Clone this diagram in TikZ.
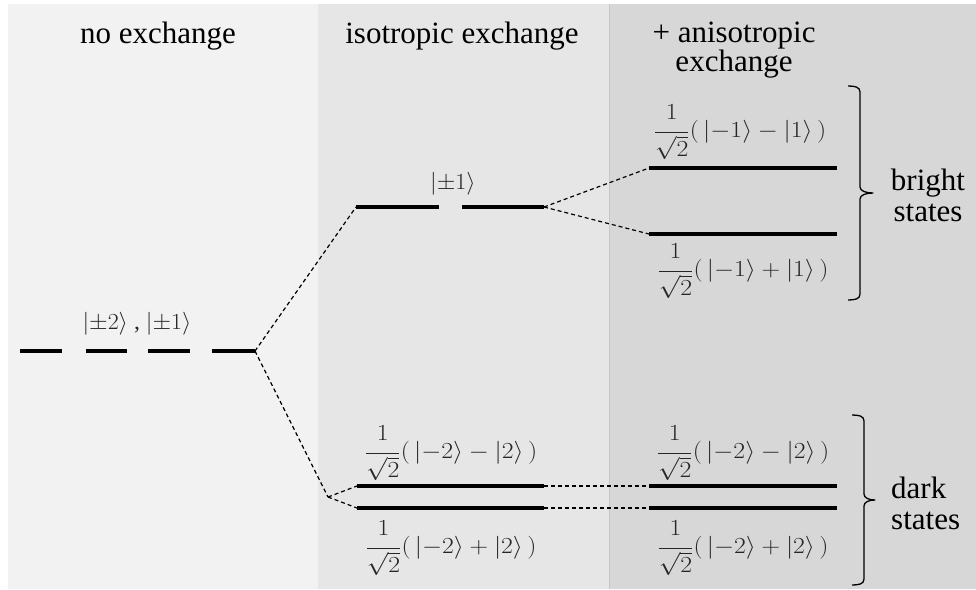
\RequirePackage{fix-cm}
\documentclass[tikz,border=0pt]{standalone}
\usepackage{amsmath}
\usepackage{graphicx}
\usepackage[no-math]{fontspec}
\setmainfont{Liberation Serif}
\definecolor{panelA}{HTML}{F2F2F2}
\definecolor{panelB}{HTML}{E6E6E6}
\definecolor{panelC}{HTML}{D7D7D7}
\definecolor{mathgray}{HTML}{262626}
\tikzset{
  level/.style={line width=4pt},
  link/.style={line width=1.2pt, dash pattern=on 4pt off 3pt},
  ket/.style={inner sep=0pt, text=mathgray, font=\fontsize{23}{27}\selectfont},
  title/.style={inner sep=0pt, font=\fontsize{31}{29}\selectfont, align=center},
  side/.style={inner sep=0pt, font=\fontsize{31}{31}\selectfont},
  bracket/.style={line width=1.3pt, line join=round}
}
\newcommand{\wide}[1]{\scalebox{1.12}[1]{#1}}
\newcommand{\slightwide}[1]{\scalebox{1.04}[1]{#1}}
\newcommand{\fracsq}{\dfrac{\raisebox{3pt}{$\displaystyle 1$}}{\sqrt{2}}}
\newcommand{\combo}[2]{\wide{$\fracsq(\,|{-#1}\rangle#2|#1\rangle\,)$}}
\begin{document}
\begin{tikzpicture}[x=1pt,y=-1pt]
\useasboundingbox (0,0) rectangle (976,589);
% panels
\fill[white] (0,0) rectangle (976,589);
\fill[panelA] (8,4) rectangle (318,589);
\fill[panelB] (318,4) rectangle (609,589);
\fill[panelC] (609,4) rectangle (976,589);
\draw[black!22, line width=1pt] (609,4) -- (609,589);
% titles
\node[title] (t1) at (158,36) {no exchange};
\node[title] (t2) at (462,36) {isotropic exchange};
\node[title] (t3) at (734,50) {+ anisotropic\\exchange};
% panel 1 levels
\coordinate (a1) at (20,351); \coordinate (a2) at (62,351);
\coordinate (a3) at (86,351); \coordinate (a4) at (127,351);
\coordinate (a5) at (148,351); \coordinate (a6) at (190,351);
\coordinate (a7) at (212,351); \coordinate (a8) at (255,351);
\draw[level] (a1) -- (a2); \draw[level] (a3) -- (a4);
\draw[level] (a5) -- (a6); \draw[level] (a7) -- (a8);
\node[ket] (la) at (137,324) {\slightwide{$|{\pm}2\rangle$ , $|{\pm}1\rangle$}};
% panel 2 bright
\coordinate (b1) at (356,207); \coordinate (b2) at (439,207);
\coordinate (b3) at (462,207); \coordinate (b4) at (544,207);
\draw[level] (b1) -- (b2); \draw[level] (b3) -- (b4);
\node[ket] (lb) at (453,184) {\slightwide{$|{\pm}1\rangle$}};
% panel 2 dark
\coordinate (d1) at (357,486); \coordinate (d2) at (544,486);
\coordinate (d3) at (357,508); \coordinate (d4) at (544,508);
\coordinate (dm) at (328,497);
\draw[level] (d1) -- (d2); \draw[level] (d3) -- (d4);
\node[ket] (ld1) at (451,453) {\combo{2}{-}};
\node[ket] (ld2) at (451,548) {\combo{2}{+}};
% panel 3 bright
\coordinate (c1) at (649,168); \coordinate (c2) at (837,168);
\coordinate (c3) at (649,234); \coordinate (c4) at (837,234);
\draw[level] (c1) -- (c2); \draw[level] (c3) -- (c4);
\node[ket] (lc1) at (740,132) {\combo{1}{-}};
\node[ket] (lc2) at (743,271) {\combo{1}{+}};
% panel 3 dark
\coordinate (e1) at (649,486); \coordinate (e2) at (837,486);
\coordinate (e3) at (649,508); \coordinate (e4) at (837,508);
\draw[level] (e1) -- (e2); \draw[level] (e3) -- (e4);
\node[ket] (le1) at (743,453) {\combo{2}{-}};
\node[ket] (le2) at (743,548) {\combo{2}{+}};
% connectors
\draw[link] (a8) -- (b1);
\draw[link] (a8) -- (dm);
\draw[link] (dm) -- (d1);
\draw[link] (dm) -- (d3);
\draw[link] (b4) -- (c1);
\draw[link] (b4) -- (c3);
\draw[link] (d2) -- (e1);
\draw[link] (d4) -- (e3);
% brackets
\draw[bracket] (848,86) .. controls (855,86) and (860,87) .. (860,92) -- (860,187)
  .. controls (860,191) and (866,193) .. (873,193)
  .. controls (866,193) and (860,195) .. (860,199) -- (860,294)
  .. controls (860,299) and (855,300) .. (848,300);
\draw[bracket] (852,415) .. controls (859,415) and (864,416) .. (864,421) -- (864,494)
  .. controls (864,498) and (869,500) .. (875,500)
  .. controls (869,500) and (864,502) .. (864,506) -- (864,579)
  .. controls (864,584) and (859,585) .. (852,585);
\node[side, align=center] (sb) at (928,195) {bright\\states};
\node[side, align=left, anchor=west] (sd) at (891,503) {dark\\states};
\end{tikzpicture}
\end{document}
